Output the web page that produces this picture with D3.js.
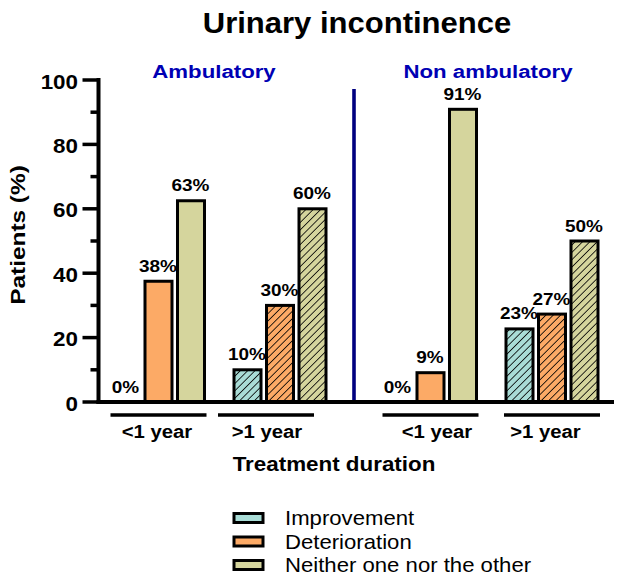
<!DOCTYPE html>
<html><head><meta charset="utf-8">
<script src="https://cdn.jsdelivr.net/npm/d3@7"></script>
<style>html,body{margin:0;padding:0;background:#fff;}svg{display:block;font-family:"Liberation Sans",Arial,sans-serif;}</style>
</head><body>
<script>
// ---- data ----
const panels = ["Ambulatory", "Non ambulatory"];
const durations = ["<1 year", ">1 year"];
const series = ["Improvement", "Deterioration", "Neither one nor the other"];
const ambulatoryLess1 = [0, 37.5, 62.5];
const ambulatoryMore1 = [10, 30, 60];
const nonAmbulatoryLess1 = [0, 9.1, 90.9];
const nonAmbulatoryMore1 = [22.7, 27.3, 50];
const yTicks = [0, 20, 40, 60, 80, 100];
const yMinorTicks = [10, 30, 50, 70, 90];

const colors = ["#A9DCD6", "#FCAA66", "#D5D59D"];
const valuesByPanel = {
  "Ambulatory": {"<1 year": ambulatoryLess1, ">1 year": ambulatoryMore1},
  "Non ambulatory": {"<1 year": nonAmbulatoryLess1, ">1 year": nonAmbulatoryMore1}
};
const rows = [];
panels.forEach(p => durations.forEach(d => series.forEach((s, i) =>
  rows.push({panel: p, duration: d, series: s, si: i, value: valuesByPanel[p][d][i]}))));

// ---- layout ----
const W = 625, H = 577;
const svg = d3.select("body").append("svg").attr("width", W).attr("height", H);

const y = d3.scaleLinear().domain([0, 100]).range([402, 80]);
const xPanel = d3.scaleBand().domain(panels).range([112.5, 656.5]).paddingInner(0);
const xDur = d3.scaleBand().domain(durations).range([0, 213.5]).paddingInner(0.2428).paddingOuter(0);
const xSer = d3.scaleBand().domain(series).range([0, xDur.bandwidth()]).paddingInner(5.5 / 32.5).paddingOuter(0);
const bx = r => xPanel(r.panel) + xDur(r.duration) + xSer(r.series);

// hatch patterns
const defs = svg.append("defs");
colors.forEach((c, i) => {
  const p = defs.append("pattern").attr("id", "hatch" + i).attr("patternUnits", "userSpaceOnUse")
    .attr("width", 5.2).attr("height", 5.2).attr("patternTransform", "rotate(45)");
  p.append("rect").attr("width", 5.2).attr("height", 5.2).attr("fill", c);
  p.append("line").attr("x1", 0).attr("y1", 0).attr("x2", 0).attr("y2", 5.2)
    .attr("stroke", "#000").attr("stroke-width", 1.6);
});

function txt(x, yy, s, size, opts = {}) {
  const g = svg.append("g").attr("transform",
    `translate(${x},${yy})${opts.rot ? " rotate(" + opts.rot + ")" : ""} scale(${opts.sx || 1},1)`);
  g.append("text").text(s).attr("font-size", size)
    .attr("font-weight", opts.weight || "bold")
    .attr("fill", opts.fill || "#000")
    .attr("text-anchor", opts.anchor || "middle")
    .attr("dy", opts.dy || 0);
  return g;
}

// title
txt(357, 33, "Urinary incontinence", 29, {sx: 1.07});

// panel headers
txt(214, 78, "Ambulatory", 19, {sx: 1.17, fill: "#0000B4"});
txt(488, 78, "Non ambulatory", 19, {sx: 1.17, fill: "#0000B4"});

// divider
svg.append("line").attr("x1", 354).attr("x2", 354).attr("y1", 89).attr("y2", 402)
  .attr("stroke", "#000080").attr("stroke-width", 3.6);

// bars
svg.selectAll("rect.bar").data(rows).join("rect").attr("class", "bar")
  .attr("x", bx).attr("width", xSer.bandwidth())
  .attr("y", d => y(d.value)).attr("height", d => y(0) - y(d.value))
  .attr("fill", d => d.duration === ">1 year" ? `url(#hatch${d.si})` : colors[d.si])
  .attr("stroke", "#000").attr("stroke-width", d => d.value > 0 ? 3 : 0);

// value labels
rows.forEach(r => {
  txt(bx(r) + xSer.bandwidth() / 2 - 0.5, y(r.value) - 9.5, Math.round(r.value) + "%", 16.5, {sx: 1.15});
});

// y axis
const yAxis = svg.append("g").attr("transform", "translate(98.5,0)");
yAxis.append("line").attr("x1", 0).attr("x2", 0).attr("y1", 78).attr("y2", 404)
  .attr("stroke", "#000").attr("stroke-width", 4);
yTicks.forEach(t => {
  yAxis.append("line").attr("x1", -16).attr("x2", 0).attr("y1", y(t)).attr("y2", y(t))
    .attr("stroke", "#000").attr("stroke-width", 3.5);
  txt(78, y(t) + 1.5, String(t), 20, {sx: 1.12, anchor: "end", dy: "0.35em"});
});
yMinorTicks.forEach(t => {
  yAxis.append("line").attr("x1", -8).attr("x2", 0).attr("y1", y(t)).attr("y2", y(t))
    .attr("stroke", "#000").attr("stroke-width", 3.5);
});

// x baseline
svg.append("line").attr("x1", 96.5).attr("x2", 614).attr("y1", 402).attr("y2", 402)
  .attr("stroke", "#000").attr("stroke-width", 4);

// group underlines and labels (hand-placed nudges as in the original)
const underlineShift = {"Ambulatory<1 year": 0, "Ambulatory>1 year": -14, "Non ambulatory<1 year": 0, "Non ambulatory>1 year": 0};
const labelShift = {"Ambulatory<1 year": -1.5, "Ambulatory>1 year": -13, "Non ambulatory<1 year": 6.5, "Non ambulatory>1 year": -6.5};
panels.forEach(p => durations.forEach(d => {
  const c = xPanel(p) + xDur(d) + xDur.bandwidth() / 2;
  const k = p + d;
  svg.append("line").attr("x1", c + underlineShift[k] - 48).attr("x2", c + underlineShift[k] + 48)
    .attr("y1", 415).attr("y2", 415).attr("stroke", "#000").attr("stroke-width", 3.4);
  txt(c + labelShift[k], 437.5, d, 17.5, {sx: 1.16});
}));

// axis titles
txt(334, 471, "Treatment duration", 20, {sx: 1.12});
txt(25, 235, "Patients (%)", 20, {rot: -90, sx: 1.22});

// legend
series.forEach((s, i) => {
  const cy = 518 + i * 23.5;
  svg.append("rect").attr("x", 234).attr("y", cy - 4.5).attr("width", 29).attr("height", 9)
    .attr("fill", colors[i]).attr("stroke", "#000").attr("stroke-width", 3);
  txt(285, cy, s, 20.5, {weight: "normal", anchor: "start", sx: 1.08, dy: "0.35em"});
});
</script>
</body></html>
